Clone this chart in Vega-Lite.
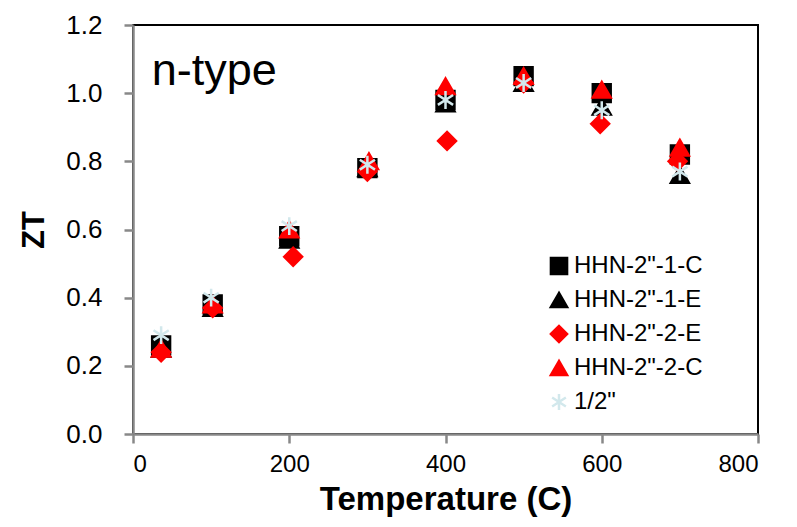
{
  "$schema": "https://vega.github.io/schema/vega-lite/v6.json",
  "width": 625,
  "height": 409,
  "autosize": {"type": "none"},
  "padding": {"left": 133, "top": 25, "right": 39, "bottom": 93},
  "background": "white",
  "config": {
    "view": {"stroke": "black", "strokeWidth": 2},
    "font": "Liberation Sans"
  },
  "layer": [
    {
      "data": {
        "values": [
          {"T": 36, "ZT": 0.26, "s": "HHN-2\"-1-C"},
          {"T": 102, "ZT": 0.38, "s": "HHN-2\"-1-C"},
          {"T": 200, "ZT": 0.58, "s": "HHN-2\"-1-C"},
          {"T": 300, "ZT": 0.78, "s": "HHN-2\"-1-C"},
          {"T": 400, "ZT": 0.98, "s": "HHN-2\"-1-C"},
          {"T": 500, "ZT": 1.05, "s": "HHN-2\"-1-C"},
          {"T": 600, "ZT": 1.0, "s": "HHN-2\"-1-C"},
          {"T": 700, "ZT": 0.82, "s": "HHN-2\"-1-C"},
          {"T": 36, "ZT": 0.25, "s": "HHN-2\"-1-E"},
          {"T": 102, "ZT": 0.37, "s": "HHN-2\"-1-E"},
          {"T": 200, "ZT": 0.57, "s": "HHN-2\"-1-E"},
          {"T": 300, "ZT": 0.78, "s": "HHN-2\"-1-E"},
          {"T": 400, "ZT": 0.97, "s": "HHN-2\"-1-E"},
          {"T": 500, "ZT": 1.03, "s": "HHN-2\"-1-E"},
          {"T": 600, "ZT": 0.96, "s": "HHN-2\"-1-E"},
          {"T": 700, "ZT": 0.76, "s": "HHN-2\"-1-E"},
          {"T": 36, "ZT": 0.24, "s": "HHN-2\"-2-E"},
          {"T": 102, "ZT": 0.37, "s": "HHN-2\"-2-E"},
          {"T": 205, "ZT": 0.52, "s": "HHN-2\"-2-E"},
          {"T": 300, "ZT": 0.77, "s": "HHN-2\"-2-E"},
          {"T": 402, "ZT": 0.86, "s": "HHN-2\"-2-E"},
          {"T": 500, "ZT": 1.03, "s": "HHN-2\"-2-E"},
          {"T": 598, "ZT": 0.91, "s": "HHN-2\"-2-E"},
          {"T": 697, "ZT": 0.8, "s": "HHN-2\"-2-E"},
          {"T": 36, "ZT": 0.25, "s": "HHN-2\"-2-C"},
          {"T": 102, "ZT": 0.38, "s": "HHN-2\"-2-C"},
          {"T": 200, "ZT": 0.6, "s": "HHN-2\"-2-C"},
          {"T": 302, "ZT": 0.8, "s": "HHN-2\"-2-C"},
          {"T": 400, "ZT": 1.02, "s": "HHN-2\"-2-C"},
          {"T": 500, "ZT": 1.05, "s": "HHN-2\"-2-C"},
          {"T": 600, "ZT": 1.01, "s": "HHN-2\"-2-C"},
          {"T": 700, "ZT": 0.84, "s": "HHN-2\"-2-C"},
          {"T": 36, "ZT": 0.29, "s": "1/2\""},
          {"T": 100, "ZT": 0.4, "s": "1/2\""},
          {"T": 200, "ZT": 0.61, "s": "1/2\""},
          {"T": 300, "ZT": 0.79, "s": "1/2\""},
          {"T": 400, "ZT": 0.98, "s": "1/2\""},
          {"T": 500, "ZT": 1.03, "s": "1/2\""},
          {"T": 600, "ZT": 0.95, "s": "1/2\""},
          {"T": 700, "ZT": 0.77, "s": "1/2\""}
        ]
      },
      "mark": {"type": "point", "filled": true, "size": 320, "strokeWidth": 2.5, "opacity": 1},
      "encoding": {
        "x": {
          "field": "T", "type": "quantitative",
          "scale": {"domain": [0, 800], "nice": false},
          "axis": {
            "title": "Temperature (C)",
            "values": [0, 200, 400, 600, 800],
            "grid": false,
            "domainColor": "#888888", "domainWidth": 2.5,
            "tickColor": "#888888", "tickWidth": 2.5, "tickSize": 9,
            "labelFontSize": 24, "labelColor": "black", "labelPadding": 9,
            "titleFontSize": 33, "titleFontWeight": "bold", "titleColor": "black", "titlePadding": 7
          }
        },
        "y": {
          "field": "ZT", "type": "quantitative",
          "scale": {"domain": [0, 1.2], "nice": false},
          "axis": {
            "title": "ZT",
            "values": [0, 0.2, 0.4, 0.6, 0.8, 1.0, 1.2],
            "format": ".1f",
            "grid": false,
            "domainColor": "#888888", "domainWidth": 2.5,
            "tickColor": "#888888", "tickWidth": 2.5, "tickSize": 9,
            "labelFontSize": 26, "labelColor": "black", "labelPadding": 22,
            "titleFontSize": 31, "titleFontWeight": "bold", "titleColor": "black", "titlePadding": 15
          }
        },
        "shape": {
          "field": "s", "type": "nominal",
          "scale": {
            "domain": ["HHN-2\"-1-C", "HHN-2\"-1-E", "HHN-2\"-2-E", "HHN-2\"-2-C", "1/2\""],
            "range": ["square", "triangle-up", "diamond", "triangle-up", "M0,-1L0,1M-0.85,-0.55L0.85,0.55M-0.85,0.55L0.85,-0.55"]
          },
          "legend": {
            "title": null,
            "orient": "none",
            "legendX": 414,
            "legendY": 229,
            "labelFontSize": 24,
            "labelColor": "black",
            "labelOffset": 3,
            "symbolSize": 260,
            "symbolStrokeWidth": 2.5,
            "rowPadding": 8,
            "symbolOffset": 0
          }
        },
        "color": {
          "field": "s", "type": "nominal",
          "scale": {
            "domain": ["HHN-2\"-1-C", "HHN-2\"-1-E", "HHN-2\"-2-E", "HHN-2\"-2-C", "1/2\""],
            "range": ["#000000", "#000000", "#FF0000", "#FF0000", "#D2E8EC"]
          }
        },
        "stroke": {
          "field": "s", "type": "nominal",
          "scale": {
            "domain": ["HHN-2\"-1-C", "HHN-2\"-1-E", "HHN-2\"-2-E", "HHN-2\"-2-C", "1/2\""],
            "range": ["#000000", "#000000", "#FF0000", "#FF0000", "#D2E8EC"]
          }
        }
      }
    },
    {
      "data": {"values": [{"T": 24, "ZT": 1.065, "label": "n-type"}]},
      "mark": {"type": "text", "align": "left", "baseline": "middle", "fontSize": 45, "font": "Liberation Sans", "color": "black"},
      "encoding": {
        "x": {"field": "T", "type": "quantitative"},
        "y": {"field": "ZT", "type": "quantitative"},
        "text": {"field": "label"}
      }
    }
  ]
}
